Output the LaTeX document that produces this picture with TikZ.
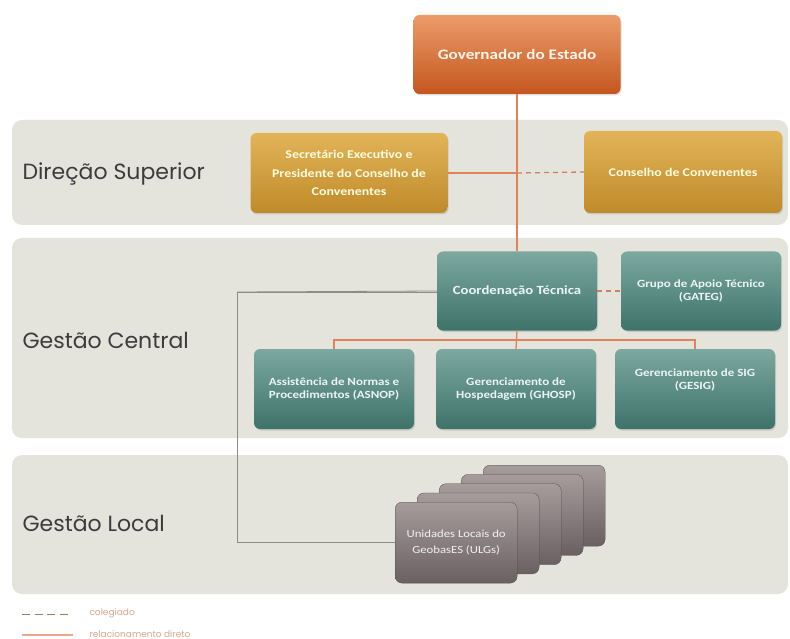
\documentclass[tikz,border=0pt]{standalone}
\usepackage{fontspec}
\setmainfont{Carlito}
\newfontfamily\boxfont[FakeStretch=1.18]{Carlito}
\newfontfamily\bandfont{Poppins}
\usetikzlibrary{shadows}
\definecolor{bandbg}{HTML}{E4E4DC}
\definecolor{orgtop}{HTML}{EC9C6A}
\definecolor{orgbot}{HTML}{C4561E}
\definecolor{goldtop}{HTML}{E2B458}
\definecolor{goldbot}{HTML}{BF8A2A}
\definecolor{tealtop}{HTML}{7CA8A0}
\definecolor{tealbot}{HTML}{3E7369}
\definecolor{ulgtop}{HTML}{A69C9C}
\definecolor{ulgbot}{HTML}{6A6062}
\definecolor{link}{HTML}{E0825A}
\definecolor{glink}{HTML}{8C8C82}
\definecolor{labeltxt}{HTML}{3C3C3C}
\definecolor{legtxt}{HTML}{D8A88C}
\tikzset{
  x=1pt, y=1pt,
  band/.style={fill=bandbg, draw=none, rounded corners=10pt},
  bandlabel/.style={anchor=west, font=\bandfont\fontsize{22}{24}\selectfont, text=labeltxt},
  box/.style={rounded corners=6pt, draw=none, align=center, inner sep=2pt,
    drop shadow={shadow xshift=1pt, shadow yshift=-1.5pt, opacity=0.25}},
  govbox/.style={box, top color=orgtop, bottom color=orgbot, text=white!92!orange,
    minimum width=207pt, minimum height=79pt, font=\boxfont\bfseries\fontsize{14.5}{17}\selectfont},
  goldbox/.style={box, top color=goldtop, bottom color=goldbot, text=white!88!yellow,
    minimum width=197pt, minimum height=80pt, font=\boxfont\bfseries\fontsize{11.8}{18.5}\selectfont},
  tealbox/.style={box, top color=tealtop, bottom color=tealbot, text=white!92!teal,
    minimum width=160pt, minimum height=79pt, font=\boxfont\bfseries\fontsize{11}{13.5}\selectfont},
  ulgbox/.style={rounded corners=7pt, top color=ulgtop, bottom color=ulgbot, draw=ulgbot!80!black, line width=0.3pt,
    minimum width=122pt, minimum height=81pt, align=center, text=white!90!gray,
    font=\boxfont\fontsize{10.8}{16}\selectfont},
  rel/.style={draw=link, line width=1.3pt},
  coleg/.style={draw=link!80!gray, line width=1.3pt, dash pattern=on 5pt off 4pt},
  grel/.style={draw=glink, line width=0.8pt},
  legtext/.style={anchor=west, text=legtxt, font=\bandfont\fontsize{9}{11}\selectfont}
}
\begin{document}
\begin{tikzpicture}
\useasboundingbox (0,0) rectangle (790,-639);
\fill[white] (0,0) rectangle (790,-639);
% bands
\path[band] (12,-120) rectangle (788,-225);
\path[band] (12,-238) rectangle (788,-438);
\path[band] (12,-455) rectangle (788,-594);
\node[bandlabel] (ldir) at (19,-174) {Direção Superior};
\node[bandlabel] (lcen) at (19,-340) {Gestão Central};
\node[bandlabel] (lloc) at (19,-523) {Gestão Local};
% coordinates
\coordinate (j1) at (517,-173);
\coordinate (bus) at (517,-340);
\coordinate (gcorner) at (237,-292);
% gray connector behind boxes
\draw[grel] (516,-292) -- (gcorner) |- (436,-542.5);
% boxes
\node[govbox] (gov) at (517,-54.5) {Governador do Estado};
\node[goldbox] (sec) at (349,-173) {Secretário Executivo e\\Presidente do Conselho de\\Convenentes};
\node[goldbox, minimum width=198pt, minimum height=82pt] (cons) at (683,-172) {Conselho de Convenentes};
\node[tealbox, font=\boxfont\bfseries\fontsize{12.5}{15}\selectfont] (coord) at (517,-291) {Coordenação Técnica};
\node[tealbox] (gateg) at (701,-291) {Grupo de Apoio Técnico\\(GATEG)};
\node[tealbox, minimum height=80pt] (asnop) at (334,-389) {Assistência de Normas e\\Procedimentos (ASNOP)};
\node[tealbox, minimum height=80pt] (ghosp) at (516,-389) {Gerenciamento de\\Hospedagem (GHOSP)};
\node[tealbox, minimum height=80pt] (gesig) at (695,-389) {Gerenciamento de SIG\\(GESIG)\\[6pt]};
% ULG stack
\foreach \i in {4,3,2,1} {
  \node[ulgbox, anchor=north west] (ulg\i) at (395+22*\i, -502+9.25*\i) {};
}
\node[ulgbox, anchor=north west] (ulg) at (395,-502) {Unidades Locais do\\GeobasES (ULGs)};
% connectors
\draw[rel] (gov.south) -- (coord.north);
\draw[rel] (sec.east) -- (j1);
\draw[coleg] (j1) -- (cons.west);
\draw[coleg] (coord.east) -- (gateg.west);
\draw[rel] (coord.south) -- (ghosp.north);
\draw[rel] (asnop.north) |- (bus) -| (gesig.north);
\draw[grel] (coord.west) -- (gcorner);
% legend
\coordinate (l1a) at (22,-614);
\coordinate (l1b) at (72,-614);
\coordinate (l2a) at (22,-635);
\coordinate (l2b) at (73,-635);
\draw[draw=gray!80!orange, line width=1pt, dash pattern=on 8pt off 4.5pt] (l1a) -- (l1b);
\draw[draw=link!70!white, line width=1.2pt] (l2a) -- (l2b);
\node[legtext] (t1) at (86,-613) {colegiado};
\node[legtext] (t2) at (86,-634) {relacionamento direto};
\end{tikzpicture}
\end{document}
